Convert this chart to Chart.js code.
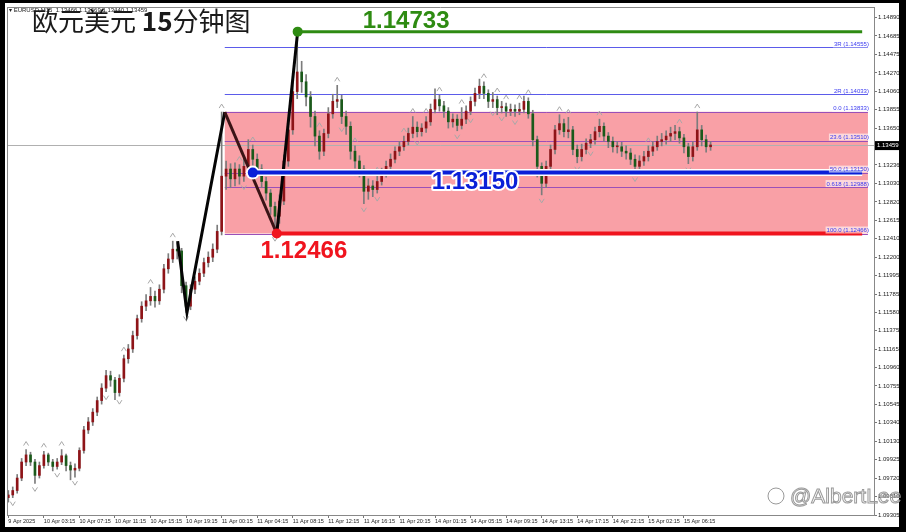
<!DOCTYPE html>
<html>
<head>
<meta charset="utf-8">
<script src="https://cdn.jsdelivr.net/npm/chart.js@4.4.1/dist/chart.umd.min.js"></script>
<style>
  html, body { margin: 0; padding: 0; background: #000; }
</style>
</head>
<body>
<canvas id="myChart" width="906" height="532"></canvas>
<script>
// EURUSD 30 min candles (open = previous close)
const firstOpen = 1.0950
const closes = [1.0953,1.0958,1.0972,1.0990,1.0998,1.0990,1.0975,1.0986,1.0998,1.0990,
1.0985,1.0990,1.0997,1.0986,1.0981,1.0983,1.1003,1.1026,1.1035,1.1046,
1.1059,1.1073,1.1087,1.1082,1.1068,1.1084,1.1106,1.1117,1.1132,1.1151,
1.1165,1.1171,1.1176,1.1171,1.1184,1.1207,1.1218,1.1229,1.1227,1.1188,
1.1165,1.1184,1.1193,1.1202,1.1214,1.1220,1.1229,1.1249,1.1311,1.1319,
1.1308,1.1319,1.1311,1.1322,1.1341,1.1330,1.1319,1.1305,1.1292,1.1277,
1.1266,1.1283,1.1328,1.1363,1.1406,1.1428,1.1417,1.1400,1.1378,1.1356,
1.1339,1.1359,1.1381,1.1395,1.1397,1.1378,1.1367,1.1339,1.1328,1.1319,
1.1294,1.1300,1.1296,1.1305,1.1314,1.1322,1.1330,1.1339,1.1344,1.1350,
1.1359,1.1366,1.1361,1.1365,1.1372,1.1386,1.1397,1.1390,1.1384,1.1372,
1.1375,1.1368,1.1375,1.1384,1.1395,1.1404,1.1412,1.1404,1.1395,1.1397,
1.1388,1.1389,1.1384,1.1386,1.1384,1.1386,1.1395,1.1381,1.1352,1.1322,
1.1303,1.1322,1.1341,1.1363,1.1370,1.1361,1.1363,1.1341,1.1333,1.1341,
1.1348,1.1352,1.1361,1.1367,1.1356,1.1350,1.1344,1.1344,1.1339,1.1337,
1.1330,1.1322,1.1328,1.1333,1.1339,1.1344,1.1350,1.1352,1.1356,1.1359,
1.1361,1.1354,1.1344,1.1333,1.1344,1.1363,1.1352,1.1344,1.1346]
const highs = [1.0958,1.0962,1.0976,1.0994,1.1004,1.1001,1.0993,1.0990,1.1002,1.1000,
1.0993,1.0994,1.1004,1.0999,1.0990,1.0988,1.1006,1.1030,1.1040,1.1050,
1.1063,1.1078,1.1093,1.1092,1.1085,1.1088,1.1110,1.1122,1.1137,1.1155,
1.1170,1.1178,1.1186,1.1182,1.1189,1.1212,1.1224,1.1238,1.1236,1.1230,
1.1192,1.1189,1.1198,1.1207,1.1219,1.1226,1.1235,1.1256,1.1383,1.1328,
1.1325,1.1326,1.1324,1.1332,1.1352,1.1346,1.1336,1.1324,1.1310,1.1296,
1.1282,1.1290,1.1335,1.1372,1.1418,1.1473,1.1440,1.1425,1.1406,1.1384,
1.1362,1.1364,1.1388,1.1403,1.1413,1.1402,1.1384,1.1372,1.1345,1.1334,
1.1323,1.1308,1.1306,1.1312,1.1320,1.1328,1.1336,1.1344,1.1350,1.1356,
1.1365,1.1378,1.1372,1.1370,1.1378,1.1392,1.1409,1.1402,1.1395,1.1388,
1.1381,1.1380,1.1388,1.1390,1.1400,1.1410,1.1420,1.1417,1.1408,1.1405,
1.1401,1.1395,1.1393,1.1392,1.1391,1.1393,1.1401,1.1399,1.1385,1.1356,
1.1326,1.1328,1.1346,1.1368,1.1380,1.1375,1.1377,1.1367,1.1346,1.1347,
1.1353,1.1358,1.1366,1.1375,1.1371,1.1360,1.1355,1.1350,1.1349,1.1345,
1.1342,1.1335,1.1334,1.1339,1.1345,1.1350,1.1356,1.1359,1.1362,1.1366,
1.1368,1.1366,1.1358,1.1348,1.1350,1.1383,1.1368,1.1357,1.1350]
const lows = [1.0945,1.0950,1.0955,1.0969,1.0986,1.0986,1.0966,1.0972,1.0983,1.0986,
1.0980,1.0982,1.0987,1.0980,1.0970,1.0973,1.0980,1.1000,1.1022,1.1031,
1.1042,1.1055,1.1069,1.1075,1.1060,1.1064,1.1080,1.1101,1.1113,1.1128,
1.1147,1.1160,1.1166,1.1164,1.1167,1.1180,1.1202,1.1214,1.1218,1.1180,
1.1158,1.1161,1.1179,1.1189,1.1198,1.1209,1.1215,1.1225,1.1245,1.1296,
1.1298,1.1300,1.1302,1.1305,1.1315,1.1322,1.1310,1.1298,1.1284,1.1268,
1.1247,1.1258,1.1279,1.1322,1.1358,1.1398,1.1405,1.1390,1.1366,1.1345,
1.1330,1.1334,1.1354,1.1376,1.1388,1.1370,1.1358,1.1330,1.1320,1.1310,
1.1280,1.1285,1.1288,1.1292,1.1301,1.1310,1.1318,1.1326,1.1334,1.1340,
1.1346,1.1354,1.1355,1.1356,1.1360,1.1368,1.1382,1.1384,1.1377,1.1365,
1.1366,1.1362,1.1364,1.1370,1.1380,1.1390,1.1398,1.1398,1.1388,1.1388,
1.1380,1.1382,1.1378,1.1379,1.1378,1.1380,1.1382,1.1376,1.1345,1.1310,
1.1290,1.1298,1.1318,1.1336,1.1358,1.1355,1.1354,1.1335,1.1326,1.1328,
1.1336,1.1343,1.1347,1.1355,1.1350,1.1343,1.1338,1.1337,1.1333,1.1330,
1.1324,1.1314,1.1318,1.1323,1.1328,1.1334,1.1340,1.1345,1.1347,1.1350,
1.1352,1.1348,1.1337,1.1325,1.1328,1.1340,1.1345,1.1338,1.1340]

// fractal marks: candle indexes with an arrow above the high / below the low
const fractalUp = [4, 8, 12, 26, 32, 37, 48, 52, 55, 70, 74, 78, 83, 89, 91, 94, 97, 102, 107,
  110, 112, 115, 117, 124, 126, 133, 144, 151, 155]
const fractalDown = [1, 6, 11, 15, 22, 25, 40, 53, 60, 75, 78, 80, 83, 92, 101, 104, 109, 111,
  114, 120, 128, 131, 141, 153]

// x tick labels, one every 8 candles
const xTickLabels = ['9 Apr 2025','10 Apr 03:15','10 Apr 07:15','10 Apr 11:15','10 Apr 15:15',
  '10 Apr 19:15','11 Apr 00:15','11 Apr 04:15','11 Apr 08:15','11 Apr 12:15','11 Apr 16:15',
  '11 Apr 20:15','14 Apr 01:15','14 Apr 05:15','14 Apr 09:15','14 Apr 13:15','14 Apr 17:15',
  '14 Apr 22:15','15 Apr 02:15','15 Apr 06:15']
const yTickValues = [1.14890,1.14685,1.14475,1.14270,1.14060,1.13855,1.13650,1.13236,
  1.13030,1.12820,1.12615,1.12410,1.12200,1.11995,1.11785,1.11580,1.11375,1.11165,
  1.10960,1.10755,1.10545,1.10340,1.10130,1.09925,1.09720,1.09510,1.09305]

// fibonacci object
const fibNames = ['3R','2R','0.0','23.6','50.0','0.618','100.0']
const fibLevels = [1.14555,1.14033,1.13833,1.13510,1.13150,1.12988,1.12466]
const fibStart = 48.7
const fibEnd = 193.4
const lastPrice = 1.13459

// zigzag swing points (candle index, price)
const zigzagIdx = [38.1, 40.2, 48.7, 60.4, 65.1]
const zigzagPrice = [1.1238, 1.1158, 1.1383, 1.12466, 1.14733]

// marked levels
const markNames = ['green', 'blue', 'red']
const markPrices = [1.14733, 1.13150, 1.12466]
const markStart = [65.1, 55.0, 60.4]
const markEnd = 192.1

const opens = closes.map((c, i) => i ? closes[i - 1] : firstOpen)
const upColor = '#8e1418'
const downColor = '#1b5a1b'

const wickData = closes.map((c, i) => ({ x: i, y: [lows[i], highs[i]] }))
const bodyData = closes.map((c, i) => ({ x: i, y: [Math.min(opens[i], c), Math.max(opens[i], c)] }))
const bodyColors = closes.map((c, i) => c >= opens[i] ? upColor : downColor)

const markColors = { green: '#2e8b12', blue: '#0a1fd8', red: '#f0141e' }

const datasets = [
  {
    type: 'line', label: 'zigzag up', order: 2,
    data: zigzagIdx.map((x, i) => ({ x: x, y: zigzagPrice[i] })),
    borderColor: '#050505', borderWidth: 3, pointRadius: 0, tension: 0,
    segment: { borderColor: (s) => s.p0DataIndex === 2 ? '#3b1416' : undefined }
  }
]
markNames.forEach((name, k) => {
  if (name === 'blue') {
    datasets.push({
      type: 'line', label: 'blue halo', order: 1,
      data: [{ x: markStart[k], y: markPrices[k] }, { x: markEnd, y: markPrices[k] }],
      borderColor: '#fff', borderWidth: 7, pointRadius: [7, 0], pointBackgroundColor: '#fff', pointBorderWidth: 0
    })
  }
  datasets.push({
    type: 'line', label: name, order: 0,
    data: [{ x: markStart[k], y: markPrices[k] }, { x: markEnd, y: markPrices[k] }],
    borderColor: markColors[name], borderWidth: name === 'green' ? 3 : 4,
    pointRadius: [5, 0], pointBackgroundColor: markColors[name], pointBorderWidth: 0
  })
})
datasets.push({
  type: 'bar', label: 'wicks', order: 5, data: wickData,
  backgroundColor: '#7c7c7c', barThickness: 1, grouped: false
})
datasets.push({
  type: 'bar', label: 'bodies', order: 4, data: bodyData,
  backgroundColor: bodyColors, barThickness: 2, minBarLength: 1, grouped: false
})

const X0 = 7.3, DX = 4.45

function arrow(c, x, y, up) {
  c.beginPath()
  if (up) { c.moveTo(x - 2.5, y + 2); c.lineTo(x, y - 2); c.lineTo(x + 2.5, y + 2) }
  else { c.moveTo(x - 2.5, y - 2); c.lineTo(x, y + 2); c.lineTo(x + 2.5, y - 2) }
  c.stroke()
}

const backPlugin = {
  id: 'backPlugin',
  beforeDraw(chart) {
    const c = chart.ctx
    c.save()
    c.fillStyle = '#000'
    c.fillRect(0, 0, chart.width, chart.height)
    c.fillStyle = '#fff'
    c.fillRect(5, 3, 894, 524)
    c.restore()
  },
  beforeDatasetsDraw(chart) {
    const c = chart.ctx, xs = chart.scales.x, ys = chart.scales.y, a = chart.chartArea
    c.save()
    c.beginPath(); c.rect(a.left, a.top, a.right - a.left, a.bottom - a.top); c.clip()
    // fib zone
    const x1 = xs.getPixelForValue(fibStart), x2 = xs.getPixelForValue(fibEnd)
    const yt = ys.getPixelForValue(fibLevels[2]), yb = ys.getPixelForValue(fibLevels[6])
    c.fillStyle = '#f9a0a6'
    c.fillRect(x1, yt, x2 - x1, yb - yt)
    // last price line
    c.strokeStyle = '#b0b0b0'; c.lineWidth = 1
    const yp = Math.round(ys.getPixelForValue(lastPrice)) + 0.5
    c.beginPath(); c.moveTo(a.left, yp); c.lineTo(a.right, yp); c.stroke()
    // fib level lines
    fibLevels.forEach((lv, i) => {
      const y = Math.round(ys.getPixelForValue(lv)) + 0.5
      c.strokeStyle = i < 2 ? '#5b5bea' : '#9a50b8'
      c.beginPath(); c.moveTo(x1, y); c.lineTo(x2, y); c.stroke()
    })
    // fractal arrows
    c.strokeStyle = '#a8a8a8'; c.lineWidth = 1
    fractalUp.forEach(i => arrow(c, xs.getPixelForValue(i), ys.getPixelForValue(highs[i]) - 6, true))
    fractalDown.forEach(i => arrow(c, xs.getPixelForValue(i), ys.getPixelForValue(lows[i]) + 6, false))
    c.restore()
  },
  afterDatasetsDraw(chart) {
    const c = chart.ctx, xs = chart.scales.x, ys = chart.scales.y, a = chart.chartArea
    const x2 = xs.getPixelForValue(fibEnd)
    c.save()
    // fib labels
    c.font = '6px "Liberation Sans"'
    c.textAlign = 'right'; c.textBaseline = 'bottom'
    fibLevels.forEach((lv, i) => {
      const y = ys.getPixelForValue(lv)
      c.fillStyle = '#fff'
      const t = fibNames[i] + ' (' + lv.toFixed(5) + ')'
      const w = c.measureText(t).width
      c.globalAlpha = 0.6
      c.fillRect(x2 - w, y - 7, w + 2, 7)
      c.globalAlpha = 1
      c.fillStyle = '#3a3af0'
      c.fillText(t, x2 + 1, y)
    })
    // price labels
    c.font = 'bold 24px "Liberation Sans"'
    c.textAlign = 'center'; c.textBaseline = 'middle'
    c.lineJoin = 'round'
    const spots = [[89.5, -10], [105, 10], [66.5, 18]]
    markNames.forEach((name, k) => {
      const t = markPrices[k].toFixed(5)
      const x = xs.getPixelForValue(spots[k][0])
      const y = ys.getPixelForValue(markPrices[k]) + spots[k][1]
      c.strokeStyle = '#fff'; c.lineWidth = 4
      c.strokeText(t, x, y)
      c.fillStyle = markColors[name]
      c.fillText(t, x, y)
    })
    c.restore()
  },
  afterDraw(chart) {
    const c = chart.ctx, ys = chart.scales.y, a = chart.chartArea
    c.save()
    // left / top frame lines
    c.strokeStyle = '#888'; c.lineWidth = 1
    c.beginPath(); c.moveTo(a.left + 0.5, a.top); c.lineTo(a.left + 0.5, a.bottom); c.stroke()
    c.beginPath(); c.moveTo(a.left, a.top + 0.5); c.lineTo(a.right, a.top + 0.5); c.stroke()
    // last price box on the axis
    const yp = ys.getPixelForValue(lastPrice)
    c.fillStyle = '#000'
    c.fillRect(a.right + 1, yp - 4, 24, 9)
    c.fillStyle = '#fff'
    c.font = '6px "Liberation Sans"'
    c.textAlign = 'left'; c.textBaseline = 'middle'
    c.fillText(lastPrice.toFixed(5), a.right + 3, yp + 0.5)
    // header line
    c.fillStyle = '#222'
    c.font = '6px "Liberation Sans"'
    c.fillText('\u25BE EURUSD,M15  1.13466 1.13469 1.13440 1.13459', 9, 10)
    // title
    c.textBaseline = 'alphabetic'
    let x = 32
    const parts = [['欧元美元 ', '26px "Noto Sans CJK SC"'], ['15', 'bold 26px "Noto Sans CJK SC"'], ['分钟图', '26px "Noto Sans CJK SC"']]
    c.fillStyle = '#1a1a1a'
    parts.forEach(p => {
      c.font = p[1]
      c.fillText(p[0], x, 31)
      x += c.measureText(p[0]).width
    })
    // watermark
    c.font = '21px "Liberation Sans"'
    c.strokeStyle = '#9a9a9a'; c.lineWidth = 1
    c.textAlign = 'left'
    c.strokeText('@AlbertLee', 790, 503)
    c.beginPath(); c.arc(776, 496, 8, 0, Math.PI * 2); c.stroke()
    c.restore()
  }
}

const ctx = document.getElementById('myChart')

new Chart(ctx, {
  type: 'bar',
  data: { datasets: datasets },
  plugins: [backPlugin],
  options: {
    responsive: false,
    animation: false,
    events: [],
    layout: { padding: { left: 6, top: 5, right: 7, bottom: 5 } },
    plugins: { legend: { display: false }, tooltip: { enabled: false } },
    scales: {
      x: {
        type: 'linear', offset: false,
        min: (6 - X0) / DX, max: (874 - X0) / DX,
        afterBuildTicks: (axis) => { axis.ticks = xTickLabels.map((t, i) => ({ value: i * 8 })) },
        afterFit: (axis) => { axis.height = 12 },
        grid: { drawOnChartArea: false, drawTicks: true, tickLength: 3, color: '#777', offset: false },
        border: { display: true, color: '#888' },
        ticks: {
          autoSkip: false, maxRotation: 0, align: 'start', padding: 0,
          font: { family: 'Liberation Sans', size: 5.5 }, color: '#222',
          callback: (v) => xTickLabels[Math.round(v / 8)]
        }
      },
      y: {
        position: 'right',
        min: 1.09305, max: 1.150097,
        afterBuildTicks: (axis) => { axis.ticks = yTickValues.map(v => ({ value: v })) },
        afterFit: (axis) => { axis.width = 25 },
        grid: { drawOnChartArea: false, drawTicks: true, tickLength: 3, color: '#777' },
        border: { display: true, color: '#888' },
        ticks: {
          padding: 1, font: { family: 'Liberation Sans', size: 6 }, color: '#222',
          callback: (v) => v.toFixed(5)
        }
      }
    }
  }
});
</script>
</body>
</html>
